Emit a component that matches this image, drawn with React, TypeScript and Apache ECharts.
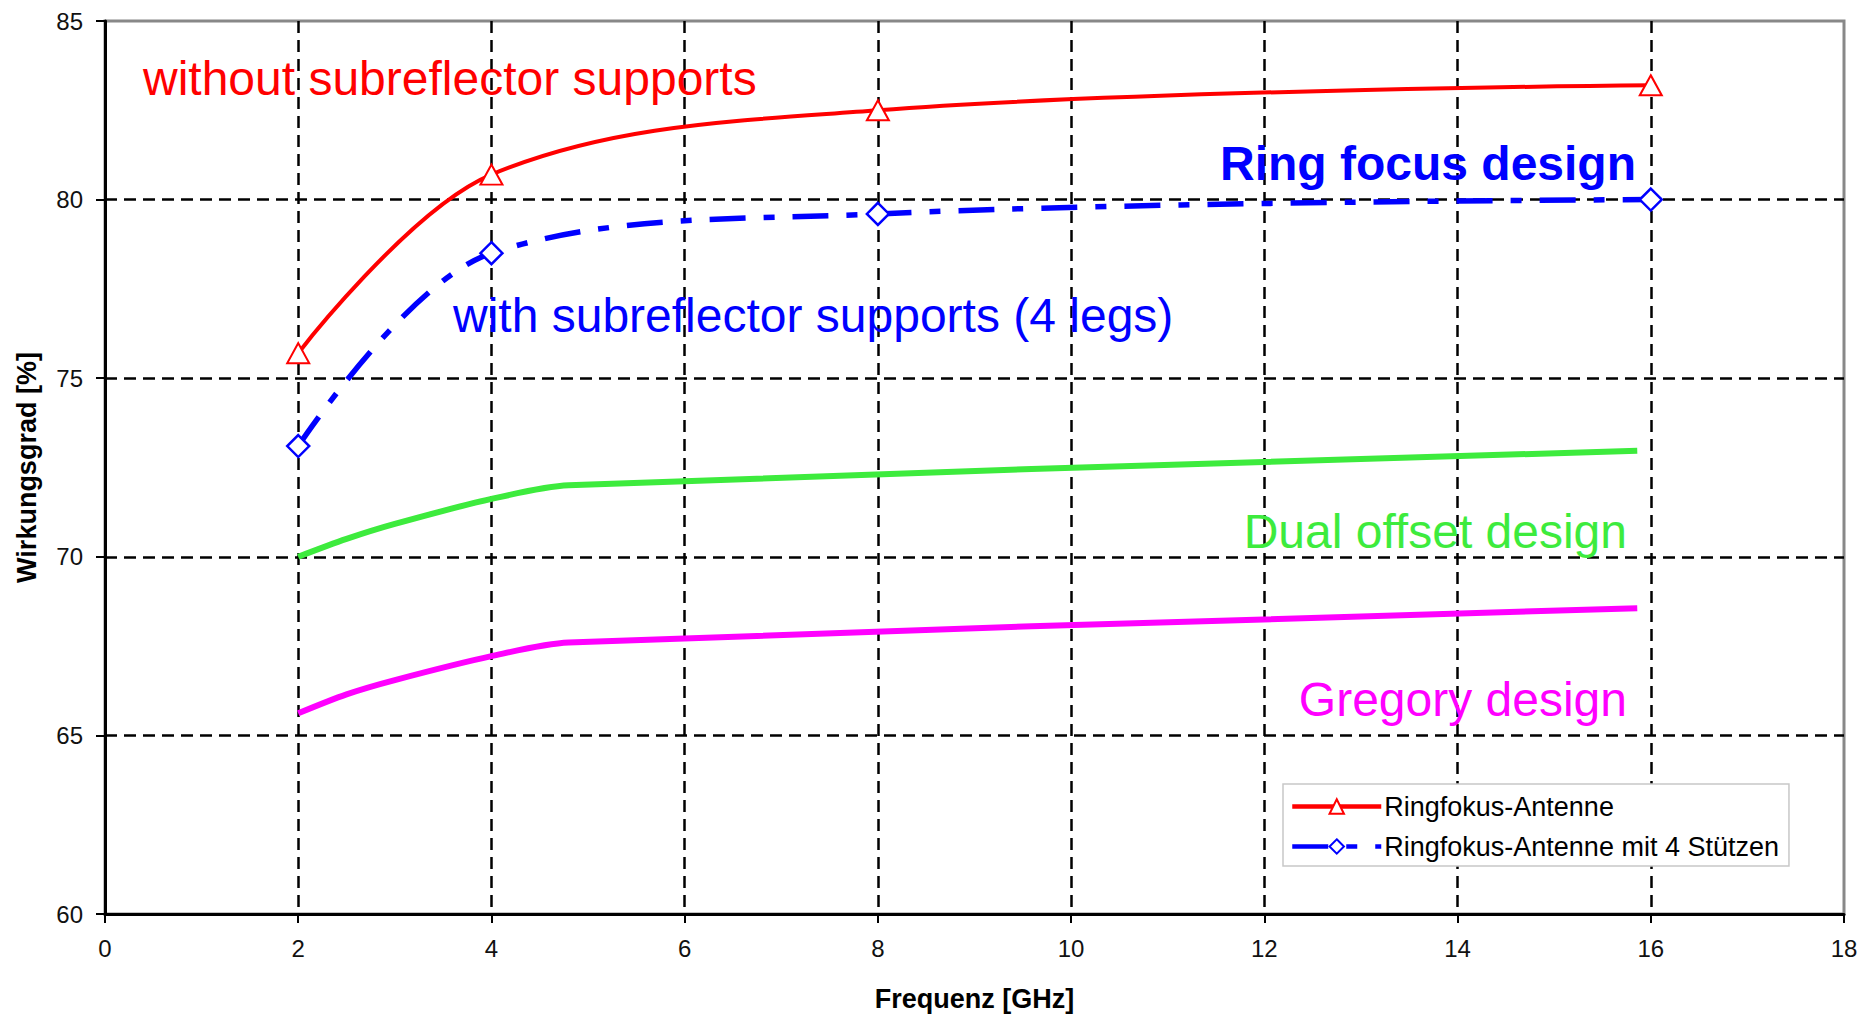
import React, { useEffect, useRef } from "react";
import * as echarts from "echarts";

const freqGHz = [2, 4, 8, 16];
const ringFocus = [75.7, 80.7, 82.5, 83.2];
const ringFocusLegs = [73.1, 78.5, 79.6, 80.0];

const offsetFreq = [2, 2.5, 3, 4, 4.8, 15.86];
const dualOffset = [70.0, 70.5, 70.92, 71.62, 72.0, 72.97];
const gregory = [65.62, 66.15, 66.55, 67.22, 67.6, 68.56];

const seriesNames = ["Ringfokus-Antenne", "Ringfokus-Antenne mit 4 Stützen"];
const annotations = [
  "without subreflector supports",
  "Ring focus design",
  "with subreflector supports (4 legs)",
  "Dual offset design",
  "Gregory design",
];

const FONT = "'Liberation Sans', Arial, Helvetica, sans-serif";

export default function App() {
  const ref = useRef<HTMLDivElement>(null);
  useEffect(() => {
    if (!ref.current) return;
    const chart = echarts.init(ref.current, undefined, { renderer: "svg" });
    const pair = (xs: number[], ys: number[]) => xs.map((x, i) => [x, ys[i]]);
    const gridDash = { color: "#000", width: 2.5, type: [12, 7] as any };
    chart.setOption({
      animation: false,
      backgroundColor: "#fff",
      grid: {
        left: 105,
        top: 21,
        right: 26,
        bottom: 100,
        show: true,
        borderColor: "#888",
        borderWidth: 3,
        backgroundColor: "transparent",
      },
      xAxis: {
        type: "value",
        min: 0,
        max: 18,
        interval: 2,
        name: "Frequenz [GHz]",
        nameLocation: "middle",
        nameGap: 71,
        nameTextStyle: { fontFamily: FONT, fontSize: 27, fontWeight: "bold", color: "#000" },
        axisLine: { show: true, onZero: false, lineStyle: { color: "#000", width: 3 } },
        axisTick: { show: true, inside: false, length: 9, lineStyle: { color: "#000", width: 2 } },
        axisLabel: { fontFamily: FONT, fontSize: 24, color: "#111", margin: 22 },
        splitLine: { show: true, showMinLine: false, showMaxLine: false, lineStyle: gridDash },
      },
      yAxis: {
        type: "value",
        min: 60,
        max: 85,
        interval: 5,
        name: "Wirkungsgrad [%]",
        nameLocation: "middle",
        nameGap: 65,
        nameRotate: 90,
        nameTextStyle: { fontFamily: FONT, fontSize: 27, fontWeight: "bold", color: "#000" },
        axisLine: { show: true, onZero: false, lineStyle: { color: "#000", width: 3 } },
        axisTick: { show: true, inside: false, length: 9, lineStyle: { color: "#000", width: 2 } },
        axisLabel: { fontFamily: FONT, fontSize: 24, color: "#111", margin: 22 },
        splitLine: { show: true, showMinLine: false, showMaxLine: false, lineStyle: gridDash },
      },
      legend: {
        orient: "vertical",
        left: 1283,
        top: 784,
        data: seriesNames,
        backgroundColor: "#fff",
        borderColor: "#c8c8c8",
        borderWidth: 1.5,
        borderRadius: 0,
        padding: [9, 10, 6, 7],
        itemWidth: 89,
        itemHeight: 18,
        itemGap: 13,
        lineStyle: { width: 4.5 },
        textStyle: { fontFamily: FONT, fontSize: 27, color: "#000", padding: [0, 0, 0, -2] },
      },
      series: [
        {
          name: seriesNames[0],
          type: "line",
          data: pair(freqGHz, ringFocus),
          smooth: 0.35,
          symbol: "triangle",
          symbolSize: [22, 20],
          showAllSymbol: true,
          lineStyle: { color: "#ff0000", width: 4 },
          itemStyle: { color: "#fff", borderColor: "#ff0000", borderWidth: 2 },
          z: 5,
        },
        {
          name: seriesNames[1],
          type: "line",
          data: pair(freqGHz, ringFocusLegs),
          smooth: 0.35,
          symbol: "diamond",
          symbolSize: 22,
          lineStyle: { color: "#0000ff", width: 5.5, type: [36, 18, 11, 18] },
          itemStyle: { color: "#fff", borderColor: "#0000ff", borderWidth: 2.5 },
          z: 5,
        },
        {
          name: "Dual offset",
          type: "line",
          data: pair(offsetFreq, dualOffset),
          smooth: 0.3,
          symbol: "none",
          lineStyle: { color: "#3deb3d", width: 6 },
          z: 4,
        },
        {
          name: "Gregory",
          type: "line",
          data: pair(offsetFreq, gregory),
          smooth: 0.3,
          symbol: "none",
          lineStyle: { color: "#ff00ff", width: 6 },
          z: 4,
        },
      ],
      graphic: [
        {
          type: "text",
          left: 143,
          top: 81 - 27,
          style: { text: annotations[0], fill: "#ff0000", font: `48px ${FONT}` },
          z: 10,
        },
        {
          type: "text",
          x: 1636,
          y: 163,
          style: {
            text: annotations[1],
            fill: "#0000ff",
            font: `bold 48px ${FONT}`,
            align: "right",
            verticalAlign: "middle",
          },
          z: 10,
        },
        {
          type: "text",
          x: 453,
          y: 315,
          style: { text: annotations[2], fill: "#0000ff", font: `48px ${FONT}`, verticalAlign: "middle" },
          z: 10,
        },
        {
          type: "text",
          x: 1627,
          y: 531,
          style: {
            text: annotations[3],
            fill: "#3deb3d",
            font: `48px ${FONT}`,
            align: "right",
            verticalAlign: "middle",
          },
          z: 10,
        },
        {
          type: "text",
          x: 1627,
          y: 699,
          style: {
            text: annotations[4],
            fill: "#ff00ff",
            font: `48px ${FONT}`,
            align: "right",
            verticalAlign: "middle",
          },
          z: 10,
        },
      ],
    });
    return () => chart.dispose();
  }, []);
  return (
    <div
      ref={ref}
      style={{ position: "fixed", left: 0, top: 0, width: 1870, height: 1017, background: "#fff" }}
    />
  );
}
